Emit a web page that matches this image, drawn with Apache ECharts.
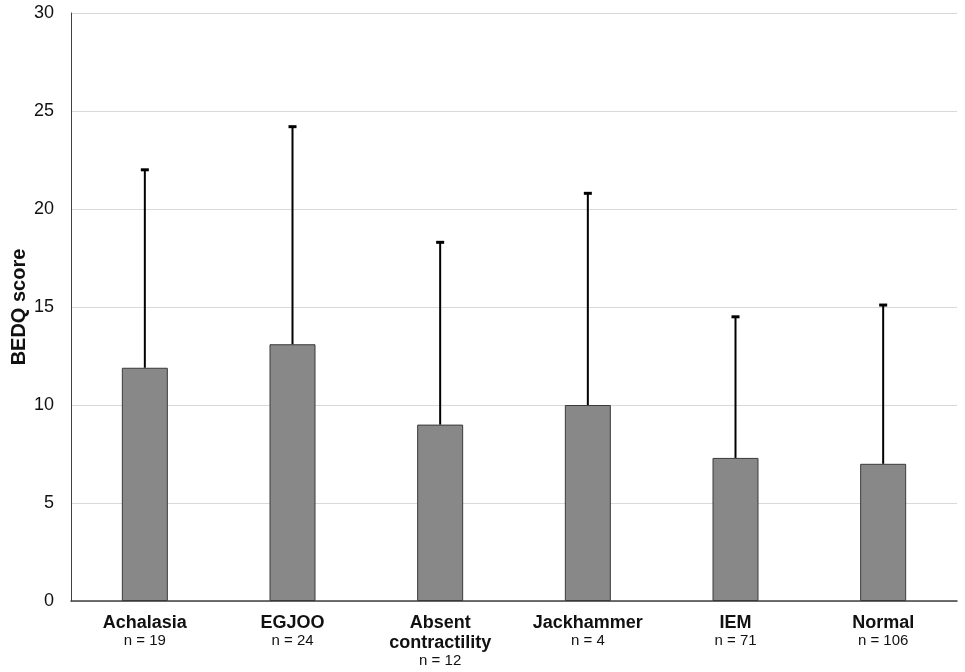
<!DOCTYPE html>
<html>
<head>
<meta charset="utf-8">
<script src="https://cdn.jsdelivr.net/npm/echarts@6/dist/echarts.min.js"></script>
<style>html,body{margin:0;padding:0;background:#fff;}#c{width:965px;height:672px;}</style>
</head>
<body>
<div id="c"></div>
<script>
var categories = ['Achalasia', 'EGJOO', 'Absent\ncontractility', 'Jackhammer', 'IEM', 'Normal'];
var nCounts = [19, 24, 12, 4, 71, 106];
var meanValues = [11.9, 13.1, 9.0, 10.0, 7.3, 7.0];
var upperValues = [22.0, 24.2, 18.3, 20.8, 14.5, 15.1];
var yTicks = [0, 5, 10, 15, 20, 25, 30];

var chart = echarts.init(document.getElementById('c'));
var errData = categories.map(function (c, i) { return [i, meanValues[i], upperValues[i]]; });

chart.setOption({
  animation: false,
  backgroundColor: '#ffffff',
  grid: { left: 71, right: 8, top: 13, bottom: 71, containLabel: false, outerBoundsMode: 'none' },
  xAxis: {
    type: 'category',
    data: categories,
    axisLine: { lineStyle: { color: '#404040', width: 1.5 } },
    axisTick: { show: false },
    axisLabel: {
      interval: 0,
      margin: 12,
      formatter: function (v, i) {
        var parts = v.split('\n').map(function (p) { return '{b|' + p + '}'; });
        return parts.join('\n') + '\n{n|n = ' + nCounts[i] + '}';
      },
      rich: {
        b: { fontFamily: 'Liberation Sans, Arial', fontWeight: 'bold', fontSize: 18, lineHeight: 20, color: '#111' },
        n: { fontFamily: 'Liberation Sans, Arial', fontSize: 15, lineHeight: 16, color: '#111' }
      }
    }
  },
  yAxis: {
    type: 'value',
    min: yTicks[0],
    max: yTicks[yTicks.length - 1],
    interval: 5,
    name: 'BEDQ score',
    nameLocation: 'middle',
    nameGap: 42,
    nameMoveOverlap: false,
    nameTextStyle: { fontFamily: 'Liberation Sans, Arial', fontWeight: 'bold', fontSize: 20, color: '#111' },
    axisLine: { show: true, lineStyle: { color: '#404040', width: 1 } },
    axisTick: { show: false },
    axisLabel: { margin: 17, fontFamily: 'Liberation Sans, Arial', fontSize: 18, color: '#111' },
    splitLine: { lineStyle: { color: '#d9d9d9', width: 1 } }
  },
  series: [
    {
      type: 'bar',
      data: meanValues,
      barWidth: 46,
      itemStyle: { color: '#888888', borderColor: '#3a3a3a', borderWidth: 1 },
      z: 2
    },
    {
      type: 'custom',
      data: errData,
      z: 3,
      renderItem: function (params, api) {
        var x = api.value(0);
        var lo = api.coord([x, api.value(1)]);
        var hi = api.coord([x, api.value(2)]);
        var half = 4;
        return {
          type: 'group',
          children: [
            { type: 'line', shape: { x1: lo[0], y1: lo[1], x2: hi[0], y2: hi[1] }, style: { stroke: '#000', lineWidth: 2 } },
            { type: 'line', shape: { x1: hi[0] - half, y1: hi[1], x2: hi[0] + half, y2: hi[1] }, style: { stroke: '#000', lineWidth: 3 } }
          ]
        };
      }
    }
  ]
});
</script>
</body>
</html>
